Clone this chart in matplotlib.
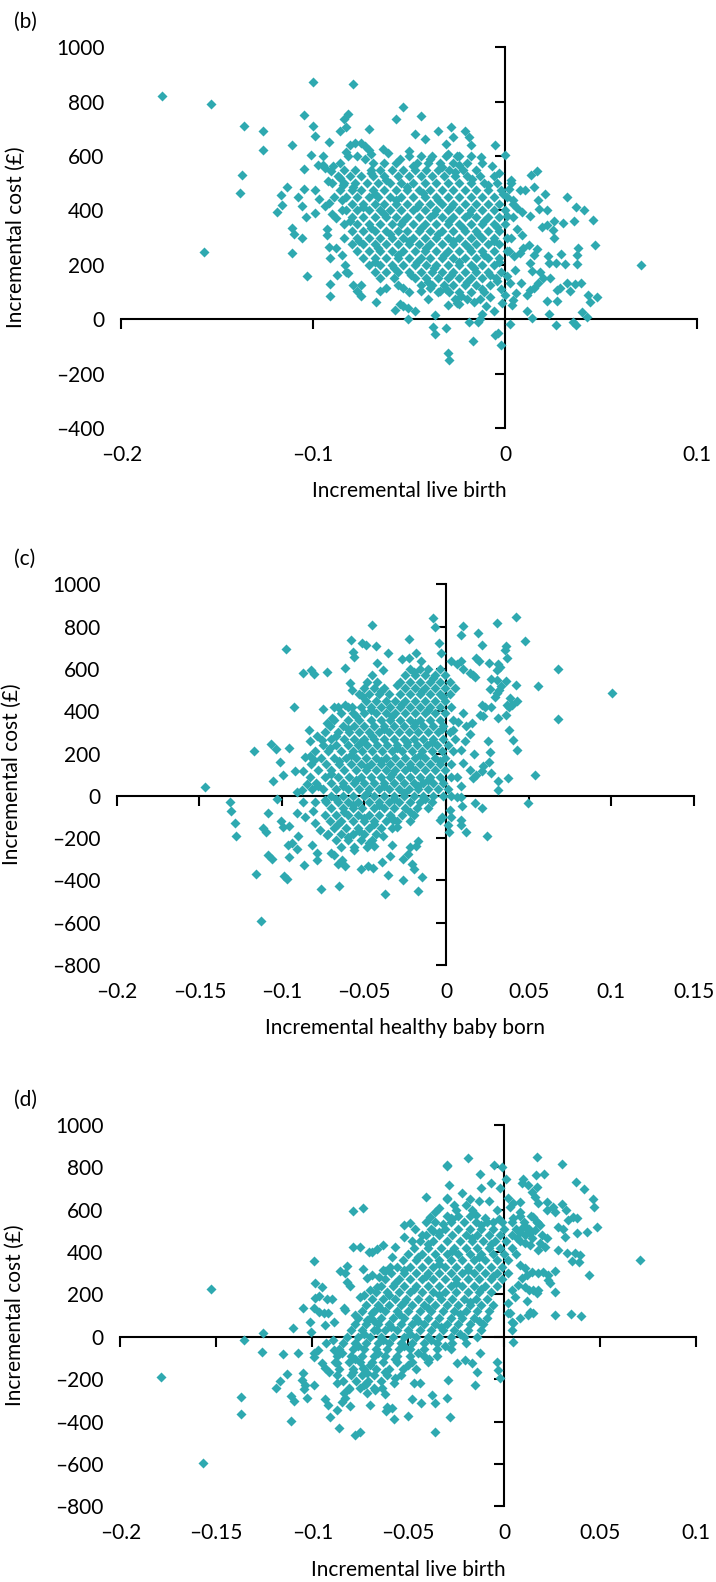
import matplotlib
matplotlib.use('Agg')
import matplotlib.pyplot as plt

plt.rcParams['font.family'] = ['Lato', 'DejaVu Sans']

COLOR = '#2EA9B0'
M = '\u2013'

# ---------------- panel (b) ----------------
b_points = [
    (-0.179, 820), (-0.153, 791), (-0.100, 872), (-0.079, 865),
    (-0.136, 712), (-0.126, 693), (-0.126, 622), (-0.137, 529), (-0.138, 466), (-0.157, 247),
    (-0.105, 750), (-0.100, 712), (-0.099, 675), (-0.111, 642), (-0.092, 652), (-0.101, 605),
    (-0.095, 601), (-0.105, 553), (-0.1135, 487), (-0.117, 456), (-0.116, 421), (-0.119, 396),
    (-0.108, 448), (-0.105, 480), (-0.106, 415), (-0.104, 377), (-0.099, 390), (-0.111, 335),
    (-0.110, 314), (-0.106, 298), (-0.111, 243), (-0.103, 158), (-0.091, 131), (-0.091, 85),
    (-0.084, 735), (-0.082, 755), (-0.086, 691), (-0.083, 706), (-0.071, 700), (-0.053, 780),
    (-0.057, 737), (-0.044, 748), (-0.047, 681), (-0.042, 661), (-0.035, 693), (-0.028, 707),
    (-0.027, 670), (-0.031, 644), (-0.050, 620), (-0.0635, 627),
    (-0.081, 640), (-0.078, 648), (-0.075, 648), (-0.073, 636), (-0.071, 621), (-0.070, 608),
    (-0.083, 615), (-0.095, 568), (-0.0974, 568), (-0.0939, 556), (-0.0922, 507), (-0.0896, 564),
    (-0.0905, 544), (-0.086, 519), (-0.0844, 494), (-0.099, 476), (-0.097, 443), (-0.094, 415),
    (-0.092, 427), (-0.090, 387), (-0.088, 372), (-0.085, 402), (-0.093, 310), (-0.092, 267),
    (-0.091, 225), (-0.093, 333), (-0.088, 261), (-0.085, 237), (-0.0835, 200), (-0.082, 169),
    (-0.0875, 163), (-0.083, 175), (-0.079, 126), (-0.0774, 102), (-0.075, 126), (-0.075, 87),
    (-0.0675, 63), (-0.065, 102), (-0.062, 114), (-0.0575, 34), (-0.055, 55), (-0.053, 47),
    (-0.0505, 40), (-0.047, 31), (-0.0505, 0), (-0.0375, -27), (-0.0366, -55), (-0.0306, -31),
    (-0.0363, 16), (-0.0297, -125), (-0.029, -150), (-0.030, 53), (-0.025, 59),
    (-0.053, 114), (-0.044, 102), (-0.039, 114), (-0.034, 102),
    (0.000, 605), (0.0134, 531), (0.0165, 546), (0.003, 513), (0.008, 476), (0.0104, 476),
    (0.015, 488), (0.0208, 460), (0.0325, 448), (0.037, 411), (0.041, 400), (0.046, 366),
    (0.036, 363), (0.0304, 353), (0.0255, 363), (0.0252, 329), (0.022, 402), (0.017, 437),
    (0.0177, 406), (0.013, 378), (0.006, 409), (0.0087, 396), (0.0194, 341), (0.022, 347),
    (0.0257, 298), (0.0467, 272), (0.0382, 261), (0.0373, 237), (0.029, 240), (0.031, 204),
    (0.0267, 206), (0.0226, 233), (0.0228, 206), (0.0373, 204), (0.0707, 200), (0.0165, 258),
    (0.0153, 237), (0.0122, 274), (0.013, 206), (0.0095, 261), (0.0078, 243), (0.0047, 231),
    (0.018, 175), (0.014, 179), (0.020, 153), (0.0234, 153), (0.0269, 108), (0.0286, 114),
    (0.032, 133), (0.0365, 130), (0.0396, 133), (0.0339, 102), (0.0434, 90), (0.044, 65),
    (0.048, 80), (0.0269, 67), (0.0217, 67), (0.017, 133), (0.0151, 114), (0.013, 108),
    (0.0113, 90), (0.0116, 31), (0.014, 4), (0.0056, 96), (0.0043, 71), (0.0035, 53),
    (0.0026, 133), (0.0082, 133), (0.0227, 18), (0.0265, -23), (0.0352, -12), (0.037, -23),
    (0.040, 28), (0.0425, 10), (0.0023, -18), (-0.0017, 59), (-0.002, -94), (-0.0052, -58),
    (-0.0035, -52), (-0.0165, -79), (-0.019, -9), (-0.014, -9), (-0.013, 0), (-0.024, 55),
    (-0.010, 47), (-0.0052, 639), (-0.0125, 596), (-0.0066, 562), (-0.003, 537), (-0.021, 691),
    (-0.019, 669), (-0.018, 639), (-0.030, 607), (-0.025, 600), (-0.024, 568),
    (0.002, 480), (0.004, 440), (0.001, 380), (0.006, 330), (0.003, 300), (0.009, 310),
    (0.002, 250), (0.005, 180), (0.001, 160), (-0.002, 110), (0.000, 90), (-0.004, 140),
    (-0.008, 80), (-0.006, 30), (-0.012, 20),
]
b_fill = [
    (-0.073, 590), (-0.061, 612), (-0.055, 590), (-0.048, 563), (-0.039, 588), (-0.033, 560),
    (-0.026, 540), (-0.017, 517), (-0.009, 492), (-0.001, 462), (-0.070, 537), (-0.062, 512),
    (-0.051, 488), (-0.043, 463), (-0.035, 437), (-0.028, 412), (-0.019, 388), (-0.011, 363),
    (-0.004, 338), (-0.079, 487), (-0.068, 462), (-0.057, 437), (-0.046, 412), (-0.037, 387),
    (-0.029, 362), (-0.022, 337), (-0.014, 312), (-0.006, 287), (-0.085, 437), (-0.074, 412),
    (-0.063, 387), (-0.053, 362), (-0.044, 337), (-0.035, 312), (-0.027, 287), (-0.019, 262),
    (-0.011, 237), (-0.003, 212), (-0.081, 362), (-0.070, 337), (-0.060, 312), (-0.050, 287),
    (-0.041, 262), (-0.032, 237), (-0.024, 212), (-0.016, 187), (-0.008, 162), (-0.076, 287),
    (-0.066, 262), (-0.056, 237), (-0.046, 212), (-0.037, 187), (-0.028, 162), (-0.020, 137),
    (-0.012, 112), (-0.068, 212), (-0.058, 187), (-0.049, 162), (-0.040, 137), (-0.031, 112),
    (-0.023, 87), (-0.016, 62),
]
b_core = [
    (600, [-0.082, -0.077, -0.050, -0.044, -0.038, -0.031, -0.024, -0.018]),
    (575, [-0.086, -0.069, -0.063, -0.057, -0.046, -0.040, -0.034, -0.027, -0.020, -0.012]),
    (550, [-0.084, -0.078, -0.070, -0.065, -0.059, -0.053, -0.047, -0.041, -0.035, -0.029, -0.022, -0.015]),
    (525, [-0.087, -0.081, -0.075, -0.069, -0.063, -0.056, -0.050, -0.044, -0.038, -0.032, -0.026, -0.020, -0.013, -0.006]),
    (500, [-0.090, -0.084, -0.078, -0.072, -0.066, -0.060, -0.054, -0.048, -0.042, -0.036, -0.030, -0.024, -0.018, -0.011, -0.004, 0.003]),
    (475, [-0.086, -0.080, -0.075, -0.069, -0.063, -0.057, -0.051, -0.045, -0.039, -0.033, -0.027, -0.021, -0.015, -0.009, -0.002]),
    (450, [-0.089, -0.083, -0.077, -0.071, -0.066, -0.060, -0.054, -0.048, -0.042, -0.036, -0.030, -0.024, -0.018, -0.012, -0.006, 0.001]),
    (425, [-0.080, -0.074, -0.068, -0.063, -0.057, -0.051, -0.045, -0.039, -0.033, -0.027, -0.021, -0.015, -0.009, -0.003, 0.004]),
    (400, [-0.083, -0.077, -0.071, -0.065, -0.060, -0.054, -0.048, -0.042, -0.036, -0.030, -0.024, -0.018, -0.012, -0.006, 0.000]),
    (375, [-0.080, -0.074, -0.068, -0.062, -0.057, -0.051, -0.045, -0.039, -0.033, -0.027, -0.021, -0.015, -0.009, -0.003, 0.004]),
    (350, [-0.084, -0.077, -0.071, -0.065, -0.059, -0.054, -0.048, -0.042, -0.036, -0.030, -0.024, -0.018, -0.012, -0.006, 0.000]),
    (325, [-0.080, -0.074, -0.068, -0.062, -0.056, -0.051, -0.045, -0.039, -0.033, -0.027, -0.021, -0.015, -0.009, -0.003]),
    (300, [-0.084, -0.077, -0.071, -0.065, -0.059, -0.053, -0.048, -0.042, -0.036, -0.030, -0.024, -0.018, -0.012, -0.006, 0.001]),
    (275, [-0.080, -0.074, -0.068, -0.062, -0.056, -0.050, -0.045, -0.039, -0.033, -0.027, -0.021, -0.015, -0.009, -0.003]),
    (250, [-0.077, -0.071, -0.065, -0.059, -0.053, -0.047, -0.042, -0.036, -0.030, -0.024, -0.018, -0.012, -0.006, 0.001]),
    (225, [-0.074, -0.068, -0.062, -0.056, -0.050, -0.044, -0.039, -0.033, -0.027, -0.021, -0.015, -0.009, -0.003]),
    (200, [-0.071, -0.065, -0.059, -0.053, -0.047, -0.041, -0.036, -0.030, -0.024, -0.018, -0.012, -0.006]),
    (175, [-0.068, -0.062, -0.056, -0.050, -0.044, -0.038, -0.033, -0.027, -0.021, -0.015, -0.009, -0.002]),
    (150, [-0.065, -0.058, -0.047, -0.041, -0.035, -0.030, -0.024, -0.018, -0.012, -0.005]),
    (125, [-0.056, -0.044, -0.038, -0.032, -0.027, -0.021, -0.015, -0.008]),
    (100, [-0.050, -0.035, -0.029, -0.024, -0.018, -0.011]),
    (75, [-0.040, -0.026, -0.020, -0.013]),
]
b_xticks = [-0.2, -0.1, 0.0, 0.1]
b_xticklabels = [M + '0.2', M + '0.1', '0', '0.1']
b_yticks = [-400, -200, 0, 200, 400, 600, 800, 1000]
b_yticklabels = [M + '400', M + '200', '0', '200', '400', '600', '800', '1000']

# ---------------- panel (c) ----------------
c_points = [
    (-0.1466, 41), (-0.1314, -28), (-0.1308, -72), (-0.1283, -129), (-0.1277, -192),
    (-0.0974, 693), (-0.1166, 214), (-0.1065, 246), (-0.1034, 220), (-0.0957, 228),
    (-0.1010, 162), (-0.0994, 96), (-0.1055, 68), (-0.1026, -16), (-0.1083, -79),
    (-0.1115, -153), (-0.1095, -173), (-0.1006, -121), (-0.0994, -148), (-0.0953, -142),
    (-0.0963, -232), (-0.0935, -224), (-0.0909, -252), (-0.1081, -279), (-0.1061, -299),
    (-0.1158, -369), (-0.0984, -378), (-0.0970, -394), (-0.0953, -287), (-0.1125, -594),
    (-0.0927, 422), (-0.0868, 580), (-0.0824, 595), (-0.0804, 576), (-0.0727, 586),
    (-0.0613, 603), (-0.0577, 737), (-0.0565, 682), (-0.0561, 658), (-0.0514, 721),
    (-0.0490, 715), (-0.0453, 806), (-0.0427, 706), (-0.0356, 674), (-0.0227, 740),
    (-0.0188, 677), (-0.0269, 647), (-0.0230, 650), (-0.0154, 635), (-0.0079, 839),
    (-0.0069, 800), (-0.0043, 721), (-0.0423, 627), (-0.0387, 595), (-0.0585, 532),
    (-0.0575, 501), (-0.0514, 472), (-0.0750, 411), (-0.0682, 422), (-0.0656, 422),
    (-0.0615, 430), (-0.0575, 419), (-0.0727, 346), (-0.0696, 367), (-0.0832, 312),
    (-0.0787, 283), (-0.0757, 265), (-0.0828, 261), (-0.0858, 183), (-0.0828, 189),
    (-0.0804, 170), (-0.0919, 115), (-0.0868, 115), (-0.0848, 55), (-0.0818, 31),
    (-0.0777, 44), (-0.0909, 20), (-0.0878, 28), (-0.0868, -27), (-0.0798, -27),
    (-0.0737, -22), (-0.0909, -82), (-0.0858, -98), (-0.0808, -74), (-0.0798, -129),
    (-0.0767, -161), (-0.0727, -184), (-0.0903, -192), (-0.0818, -232), (-0.0783, -271),
    (-0.0787, -302), (-0.0864, -326), (-0.0682, -279), (-0.0656, -321), (-0.0615, -331),
    (-0.0636, -302), (-0.0763, -441), (-0.0650, -425), (-0.0520, -346), (-0.0474, -334),
    (-0.0447, -342), (-0.0393, -315), (-0.0342, -283), (-0.0356, -376), (-0.0332, -232),
    (-0.0261, -299), (-0.0231, -276), (-0.0221, -243), (-0.0211, -321), (-0.0196, -346),
    (-0.0186, -236), (-0.0175, -216), (-0.0261, -397), (-0.0150, -384), (-0.0170, -450),
    (-0.0302, -148), (-0.0322, -113), (-0.0383, -192), (-0.0443, -239), (-0.0375, -465),
    (0.0101, 805), (0.0087, 761), (0.0192, 769), (0.0304, 816), (0.0421, 844),
    (0.0476, 734), (0.0213, 713), (-0.0036, 674), (0.0364, 706), (0.0354, 690),
    (0.0370, 650), (0.0678, 600), (0.0557, 517), (0.1002, 485), (0.0678, 362),
    (0.0259, 627), (0.0314, 624), (0.0304, 595), (0.0324, 611), (0.0182, 650),
    (0.0198, 639), (0.0091, 639), (0.0030, 635), (0.0061, 624), (0.0101, 598),
    (0.0142, 580), (0.0172, 564), (0.0158, 572), (0.0273, 551), (0.0304, 548),
    (0.0360, 545), (0.0421, 524), (0.0267, 504), (0.0320, 501), (0.0328, 517),
    (0.0294, 469), (0.0304, 485), (0.0385, 461), (0.0429, 446), (0.0369, 430),
    (0.0381, 419), (0.0395, 430), (0.0213, 430), (0.0233, 419), (0.0273, 419),
    (0.0202, 383), (0.0223, 375), (0.0314, 367), (0.0360, 383), (0.0379, 312),
    (0.0401, 265), (0.0429, 217), (0.0253, 260), (0.0267, 206), (0.0168, 198),
    (0.0142, 293), (0.0121, 328), (0.0152, 343), (0.0101, 391), (0.0071, 351),
    (0.0040, 312), (0.0111, 257), (0.0091, 217), (0.0223, 139), (0.0259, 162),
    (0.0273, 107), (0.0213, 115), (0.0142, 123), (0.0162, 83), (0.0182, 99),
    (0.0374, 83), (0.0536, 96), (0.0314, 72), (0.0314, 28), (0.0091, 44),
    (0.0061, 91), (0.0101, 154), (0.0030, -3), (0.0061, -6), (0.0091, -6),
    (0.0492, -35), (0.0172, -35), (0.0213, -58), (0.0095, -50), (0.0020, -66),
    (0.0030, -98), (0.0091, -113), (0.0091, -137), (0.0121, -172), (0.0247, -192),
    (0.0010, -137), (0.0016, -172), (-0.0040, -113), (-0.0030, -98),
]
c_fill = [
    (-0.020, 585), (-0.008, 555), (-0.030, 525), (-0.015, 495), (-0.040, 495), (-0.002, 465),
    (-0.027, 435), (-0.046, 405), (-0.011, 405), (-0.055, 375), (-0.033, 375), (-0.019, 345),
    (-0.060, 315), (-0.038, 315), (-0.003, 315), (-0.067, 285), (-0.045, 285), (-0.024, 255),
    (-0.052, 255), (-0.009, 255), (-0.071, 225), (-0.030, 225), (-0.058, 195), (-0.016, 195),
    (-0.040, 165), (-0.065, 165), (-0.004, 165), (-0.022, 135), (-0.048, 135), (-0.070, 105),
    (-0.033, 105), (-0.011, 75), (-0.055, 75), (-0.038, 45), (-0.063, 45), (-0.017, 45),
    (-0.026, 15), (-0.048, 15), (-0.067, -15), (-0.032, -15), (-0.013, -15), (-0.057, -45),
    (-0.041, -45), (-0.022, -75), (-0.062, -75), (-0.050, -105), (-0.033, -105), (-0.066, -135),
    (-0.044, -135), (-0.053, -165), (-0.060, -195), (-0.047, -225), (-0.056, -255), (-0.070, -270),
]
c_core = [
    (600, [-0.022, -0.016, -0.011, -0.004]),
    (570, [-0.045, -0.025, -0.019, -0.013, -0.007, -0.001]),
    (540, [-0.048, -0.042, -0.028, -0.022, -0.016, -0.010, -0.004, 0.002]),
    (510, [-0.050, -0.044, -0.038, -0.025, -0.019, -0.013, -0.007, -0.001, 0.005]),
    (480, [-0.053, -0.047, -0.041, -0.035, -0.028, -0.022, -0.016, -0.010, -0.004, 0.002]),
    (450, [-0.049, -0.043, -0.037, -0.031, -0.025, -0.019, -0.013, -0.007, -0.001]),
    (420, [-0.060, -0.052, -0.046, -0.040, -0.034, -0.028, -0.022, -0.016, -0.010, -0.004, 0.003]),
    (390, [-0.064, -0.057, -0.050, -0.043, -0.037, -0.031, -0.025, -0.019, -0.013, -0.007, -0.001]),
    (360, [-0.068, -0.060, -0.053, -0.046, -0.040, -0.034, -0.028, -0.022, -0.016, -0.010, -0.004, 0.004]),
    (330, [-0.071, -0.063, -0.056, -0.050, -0.044, -0.038, -0.032, -0.026, -0.020, -0.014, -0.008, -0.002]),
    (300, [-0.074, -0.066, -0.059, -0.053, -0.047, -0.041, -0.035, -0.029, -0.023, -0.017, -0.011, -0.005, 0.002]),
    (270, [-0.070, -0.062, -0.056, -0.050, -0.044, -0.038, -0.032, -0.026, -0.020, -0.014, -0.008, -0.002, 0.005]),
    (240, [-0.075, -0.067, -0.060, -0.054, -0.048, -0.042, -0.036, -0.030, -0.024, -0.018, -0.012, -0.006, 0.001]),
    (210, [-0.080, -0.072, -0.064, -0.057, -0.051, -0.045, -0.039, -0.033, -0.027, -0.021, -0.015, -0.009, -0.003, 0.004]),
    (180, [-0.076, -0.068, -0.061, -0.055, -0.049, -0.043, -0.037, -0.031, -0.025, -0.019, -0.013, -0.007, -0.001]),
    (150, [-0.082, -0.073, -0.065, -0.058, -0.052, -0.046, -0.040, -0.034, -0.028, -0.022, -0.016, -0.010, -0.004, 0.003]),
    (120, [-0.078, -0.070, -0.062, -0.055, -0.049, -0.043, -0.037, -0.031, -0.025, -0.019, -0.013, -0.007, -0.001]),
    (90, [-0.083, -0.074, -0.066, -0.059, -0.052, -0.046, -0.040, -0.034, -0.028, -0.022, -0.016, -0.010, -0.004, 0.003]),
    (60, [-0.079, -0.070, -0.063, -0.056, -0.050, -0.044, -0.038, -0.032, -0.026, -0.020, -0.014, -0.008, -0.002]),
    (30, [-0.075, -0.067, -0.060, -0.053, -0.047, -0.041, -0.035, -0.029, -0.023, -0.017, -0.011, -0.005, 0.001]),
    (0, [-0.070, -0.063, -0.057, -0.050, -0.044, -0.038, -0.032, -0.026, -0.020, -0.014, -0.008, -0.002]),
    (-30, [-0.073, -0.066, -0.060, -0.054, -0.047, -0.041, -0.035, -0.029, -0.022, -0.016, -0.009]),
    (-60, [-0.070, -0.063, -0.057, -0.051, -0.044, -0.038, -0.032, -0.025, -0.018, -0.011]),
    (-90, [-0.074, -0.067, -0.060, -0.054, -0.047, -0.041, -0.034, -0.027, -0.020]),
    (-120, [-0.071, -0.064, -0.057, -0.050, -0.044, -0.037, -0.030, -0.022]),
    (-150, [-0.068, -0.061, -0.054, -0.047, -0.040, -0.033]),
    (-180, [-0.072, -0.064, -0.057, -0.050, -0.043]),
    (-210, [-0.067, -0.060, -0.052, -0.045]),
    (-240, [-0.064, -0.056, -0.048]),
]
c_xticks = [-0.2, -0.15, -0.1, -0.05, 0.0, 0.05, 0.1, 0.15]
c_xticklabels = [M + '0.2', M + '0.15', M + '0.1', M + '0.05', '0', '0.05', '0.1', '0.15']
cd_yticks = [-800, -600, -400, -200, 0, 200, 400, 600, 800, 1000]
cd_yticklabels = [M + '800', M + '600', M + '400', M + '200', '0', '200', '400', '600', '800', '1000']

# ---------------- panel (d) ----------------
d_points = [
    (-0.1528, 223), (-0.157, -594), (-0.179, -190), (-0.1358, -16), (-0.1259, 19), (-0.1262, -72),
    (-0.1372, -283), (-0.137, -366), (-0.1155, -82), (-0.1102, 39), (-0.1007, 24), (-0.1076, -79),
    (-0.1132, -176), (-0.117, -208), (-0.1188, -244), (-0.1109, -280), (-0.1097, -302),
    (-0.1109, -396), (-0.1028, -291), (-0.1049, -170), (-0.1054, -204), (-0.1045, -248),
    (-0.1036, -228), (-0.0993, -228), (-0.0993, 358), (-0.0984, 252), (-0.0950, 233),
    (-0.0967, 192), (-0.0984, 181), (-0.0924, 176), (-0.0898, 176), (-0.1049, 137),
    (-0.0993, 134), (-0.0967, 118), (-0.0941, 113), (-0.0920, 113), (-0.1010, 71),
    (-0.0932, 55), (-0.0889, 71), (-0.0790, 593), (-0.0738, 605), (-0.0790, 424),
    (-0.0750, 424), (-0.0707, 401), (-0.0690, 401), (-0.0854, 311), (-0.0828, 299),
    (-0.0819, 335), (-0.0738, 318), (-0.0715, 275), (-0.0690, 291), (-0.0819, 259),
    (-0.0806, 239), (-0.0837, 134), (-0.0828, 126), (-0.0779, 102), (-0.0753, 189),
    (-0.0733, 196), (-0.0929, -28), (-0.0894, -16), (-0.0993, -79), (-0.0972, -63),
    (-0.0950, -126), (-0.0932, -149), (-0.0915, -165), (-0.0889, -63), (-0.0872, -126),
    (-0.0845, -79), (-0.0993, -94), (-0.0910, -377), (-0.0932, -296), (-0.0920, -322),
    (-0.0872, -346), (-0.0859, -429), (-0.0776, -464), (-0.0750, -448), (-0.0802, -327),
    (-0.0828, -291), (-0.0845, -306), (-0.0837, -267), (-0.0872, -220), (-0.0811, -248),
    (-0.0698, -322), (-0.0611, -330), (-0.0585, -338), (-0.0616, -349), (-0.0573, -390),
    (-0.0502, -374), (-0.0481, -296), (-0.0432, -311), (-0.0437, -220), (-0.0472, -220),
    (-0.0363, -448), (-0.0377, -275), (-0.0360, -314), (-0.0573, -220), (-0.0637, -244),
    (-0.0672, -252), (-0.0733, -228), (-0.0715, -267), (-0.0736, -149), (-0.0715, -170),
    (-0.0663, 31), (-0.0715, 79), (-0.0690, 110), (-0.0698, 220), (-0.0663, 236),
    (-0.0655, 283), (-0.0623, 311), (-0.0594, 327), (-0.0585, 377), (-0.0568, 424),
    (-0.0524, 527), (-0.0490, 534), (-0.0464, 506), (-0.0408, 660), (-0.0406, 542),
    (-0.0385, 566), (-0.0359, 590), (-0.0342, 605), (-0.0299, 810), (-0.0290, 715),
    (-0.0299, 652), (-0.0663, 416), (-0.0632, 432), (-0.0630, 314),
    (-0.0191, 841), (-0.0297, 807), (-0.0127, 767), (-0.0054, 810), (-0.0014, 802),
    (-0.0069, 723), (0.0007, 742), (0.0168, 846), (0.0302, 814), (0.0208, 767),
    (0.0165, 762), (0.0095, 742), (0.0090, 723), (0.0125, 715), (0.0172, 708),
    (0.0142, 684), (0.0160, 660), (0.0372, 731), (0.0415, 695), (0.0460, 648),
    (0.0467, 613), (0.0481, 519), (0.0429, 495), (0.0377, 487), (0.0316, 468),
    (0.0707, 362), (0.0439, 291), (0.0264, 102), (0.0347, 107), (0.0398, 99),
    (0.0281, 409), (0.0328, 393), (0.0351, 357), (0.0394, 385), (0.0391, 351),
    (0.0368, 393), (0.0264, 311), (0.0229, 267), (0.0238, 255), (0.0264, 212),
    (0.0168, 204), (0.0151, 220), (0.0120, 170), (0.0134, 118), (0.0148, 110),
    (0.0125, 102), (0.0082, 86), (0.0042, 71), (0.0038, 31), (0.0043, -27),
    (0.0017, 113), (0.0082, 637), (0.0043, 629), (0.0021, 652), (0.0030, 613),
    (0.0082, 590), (0.0043, 558), (0.0095, 516), (0.0177, 629), (0.0220, 637),
    (0.0255, 610), (0.0298, 626), (0.0321, 597), (0.0333, 550), (0.0359, 566),
    (0.0377, 558), (0.0220, 597), (0.0264, 590), (0.0151, 566), (0.0168, 542),
    (0.0186, 527), (0.0160, 503), (0.0116, 511), (0.0134, 487), (0.0142, 464),
    (0.0134, 432), (0.0082, 495), (0.0064, 464), (0.0108, 440), (0.0194, 479),
    (0.0220, 464), (0.0186, 440), (0.0212, 424), (0.0177, 409), (0.0281, 519),
    (0.0304, 508), (0.0082, 338), (0.0108, 322), (0.0142, 307), (0.0116, 291),
    (0.0090, 275), (0.0073, 244), (0.0108, 236), (0.0130, 220), (0.0177, 220),
    (0.0177, 299), (0.0203, 307), (0.0229, 291), (0.0056, 189), (0.0038, 220),
    (0.0021, 157), (0.0030, 110), (0.0043, 63),
    (-0.0031, -157), (-0.0040, -118), (-0.0023, -197), (-0.0144, -165), (-0.0153, -228),
    (-0.0127, -79), (-0.0170, -126), (-0.0292, -204), (-0.0297, -291), (-0.0283, -377),
    (-0.0205, -110), (-0.0248, -126),
    (-0.052, 470), (-0.048, 450), (-0.043, 480), (-0.037, 500), (-0.032, 530),
    (-0.028, 560), (-0.025, 600), (-0.020, 620), (-0.022, 680), (-0.018, 650),
    (-0.012, 700), (-0.008, 640), (-0.004, 600), (-0.010, 560), (-0.006, 540),
    (-0.030, 650), (-0.026, 620), (-0.017, 600), (-0.013, 640), (-0.002, 700),
    (-0.015, 575), (-0.001, 540),
]
d_fill = [
    (-0.027, 555), (-0.012, 525), (-0.003, 555), (-0.034, 495), (-0.017, 465), (-0.040, 435),
    (-0.007, 435), (-0.027, 405), (-0.045, 375), (-0.013, 375), (-0.034, 345), (-0.052, 315),
    (-0.019, 315), (-0.041, 285), (-0.006, 285), (-0.057, 255), (-0.025, 255), (-0.047, 225),
    (-0.012, 225), (-0.034, 195), (-0.060, 195), (-0.018, 165), (-0.052, 165), (-0.040, 135),
    (-0.065, 135), (-0.023, 105), (-0.055, 105), (-0.045, 75), (-0.013, 75), (-0.068, 75),
    (-0.033, 45), (-0.059, 45), (-0.023, 15), (-0.049, 15), (-0.073, 15), (-0.038, -15),
    (-0.063, -15), (-0.052, -45), (-0.031, -45), (-0.076, -45), (-0.045, -75), (-0.066, -75),
    (-0.057, -105), (-0.039, -105), (-0.078, -105), (-0.050, -135), (-0.070, -135), (-0.062, -165),
    (-0.079, -165), (-0.057, -195), (-0.072, -225), (-0.062, -270),
]
d_core = [
    (570, [-0.030, -0.024, -0.018, 0.008, 0.014]),
    (540, [-0.036, -0.028, -0.021, -0.015, -0.009, 0.004, 0.010, 0.017]),
    (510, [-0.038, -0.031, -0.024, -0.018, -0.012, -0.006, 0.000, 0.006, 0.013]),
    (480, [-0.041, -0.034, -0.027, -0.020, -0.014, -0.008, -0.002, 0.004, 0.011]),
    (450, [-0.044, -0.037, -0.030, -0.023, -0.017, -0.011, -0.005, 0.001, 0.008]),
    (420, [-0.047, -0.040, -0.033, -0.026, -0.020, -0.014, -0.008, -0.002, 0.004]),
    (390, [-0.050, -0.043, -0.036, -0.030, -0.024, -0.018, -0.012, -0.006, 0.000, 0.006]),
    (360, [-0.053, -0.046, -0.040, -0.034, -0.028, -0.022, -0.016, -0.010, -0.004, 0.002]),
    (330, [-0.056, -0.049, -0.043, -0.037, -0.031, -0.025, -0.019, -0.013, -0.007, -0.001]),
    (300, [-0.059, -0.052, -0.046, -0.040, -0.034, -0.028, -0.022, -0.016, -0.010, -0.004, 0.002]),
    (270, [-0.062, -0.055, -0.049, -0.043, -0.037, -0.031, -0.025, -0.019, -0.013, -0.007, -0.001]),
    (240, [-0.064, -0.058, -0.052, -0.046, -0.040, -0.034, -0.028, -0.022, -0.016, -0.010, -0.004]),
    (210, [-0.067, -0.061, -0.055, -0.049, -0.043, -0.037, -0.031, -0.025, -0.019, -0.013, -0.007]),
    (180, [-0.069, -0.063, -0.057, -0.051, -0.045, -0.039, -0.033, -0.027, -0.021, -0.015, -0.009]),
    (150, [-0.072, -0.066, -0.060, -0.054, -0.048, -0.042, -0.036, -0.030, -0.024, -0.018, -0.012, -0.006]),
    (120, [-0.074, -0.068, -0.062, -0.056, -0.050, -0.044, -0.038, -0.032, -0.026, -0.020, -0.014, -0.008]),
    (90, [-0.076, -0.070, -0.064, -0.058, -0.052, -0.046, -0.040, -0.034, -0.028, -0.022, -0.016, -0.009]),
    (60, [-0.078, -0.072, -0.066, -0.060, -0.054, -0.048, -0.042, -0.036, -0.030, -0.024, -0.018, -0.011]),
    (30, [-0.080, -0.074, -0.068, -0.062, -0.056, -0.050, -0.044, -0.038, -0.032, -0.026, -0.019, -0.012]),
    (0, [-0.082, -0.076, -0.070, -0.064, -0.058, -0.052, -0.046, -0.040, -0.034, -0.028, -0.021, -0.014]),
    (-30, [-0.084, -0.078, -0.072, -0.066, -0.060, -0.054, -0.048, -0.042, -0.035, -0.027, -0.020]),
    (-60, [-0.086, -0.079, -0.073, -0.067, -0.061, -0.055, -0.049, -0.042, -0.035, -0.028]),
    (-90, [-0.087, -0.080, -0.074, -0.068, -0.062, -0.056, -0.049, -0.042, -0.035]),
    (-120, [-0.088, -0.081, -0.075, -0.069, -0.063, -0.056, -0.048, -0.040]),
    (-150, [-0.086, -0.079, -0.073, -0.067, -0.060, -0.053, -0.046]),
    (-180, [-0.087, -0.080, -0.074, -0.068, -0.061, -0.054]),
    (-210, [-0.084, -0.077, -0.071, -0.064]),
    (-240, [-0.081, -0.075, -0.068]),
]
d_xticks = [-0.2, -0.15, -0.1, -0.05, 0.0, 0.05, 0.1]
d_xticklabels = [M + '0.2', M + '0.15', M + '0.1', M + '0.05', '0', '0.05', '0.1']

FS = 15
W, H = 716, 1582


def collect(points, fill, core):
    pts = list(points) + list(fill)
    xs = [p[0] for p in pts]
    ys = [p[1] for p in pts]
    for yv, row in core:
        xs.extend(row)
        ys.extend([yv] * len(row))
    return xs, ys


def panel(fig, px_left, px_right, px_top, px_bottom, points, fill, core,
          xlim, xticks, xtl, ylim, yticks, ytl, xlabel, tag, tag_y):
    pos = [px_left / W, 1 - px_bottom / H, (px_right - px_left) / W, (px_bottom - px_top) / H]
    xs, ys = collect(points, fill, core)

    ax = fig.add_axes(pos)
    ax.scatter(xs, ys, marker='D', s=26, color=COLOR, linewidths=0, zorder=3, clip_on=False)
    ax.set_xlim(xlim)
    ax.set_ylim(ylim)
    ax.spines['left'].set_position(('data', 0))
    ax.spines['bottom'].set_position(('data', 0))
    ax.spines['top'].set_visible(False)
    ax.spines['right'].set_visible(False)
    for s in ('left', 'bottom'):
        ax.spines[s].set_linewidth(1.5)
        ax.spines[s].set_zorder(2)
    ax.set_xticks(xticks)
    ax.set_yticks(yticks)
    ax.tick_params(direction='out', length=7, width=1.5,
                   labelbottom=False, labelleft=False)
    ax.patch.set_visible(False)

    lab = fig.add_axes(pos)
    lab.set_xlim(xlim)
    lab.set_ylim(ylim)
    lab.set_xticks(xticks, labels=xtl)
    lab.set_yticks(yticks, labels=ytl)
    lab.tick_params(axis='both', length=0, labelsize=FS)
    lab.tick_params(axis='y', pad=12)
    lab.tick_params(axis='x', pad=12)
    for s in lab.spines.values():
        s.set_visible(False)
    lab.patch.set_visible(False)
    lab.set_xlabel(xlabel, fontsize=FS, labelpad=12)
    lab.set_ylabel('Incremental cost (\u00a3)', fontsize=FS)
    lab.yaxis.set_label_coords(-0.165, 0.5)

    fig.text(14 / W, 1 - tag_y / H, tag, fontsize=FS, ha='left', va='center')


fig = plt.figure(figsize=(W / 100, H / 100), dpi=100)
fig.patch.set_facecolor('white')

panel(fig, 121.3, 697.0, 47.3, 428.0, b_points, b_fill, b_core,
      (-0.2, 0.1), b_xticks, b_xticklabels, (-400, 1000), b_yticks, b_yticklabels,
      'Incremental live birth', '(b)', 22)
panel(fig, 117.0, 693.6, 584.3, 965.0, c_points, c_fill, c_core,
      (-0.2, 0.15), c_xticks, c_xticklabels, (-800, 1000), cd_yticks, cd_yticklabels,
      'Incremental healthy baby born', '(c)', 559)
panel(fig, 120.3, 696.3, 1124.7, 1506.3, d_points, d_fill, d_core,
      (-0.2, 0.1), d_xticks, d_xticklabels, (-800, 1000), cd_yticks, cd_yticklabels,
      'Incremental live birth', '(d)', 1100)

fig.savefig('out.png', dpi=100, facecolor='white')
